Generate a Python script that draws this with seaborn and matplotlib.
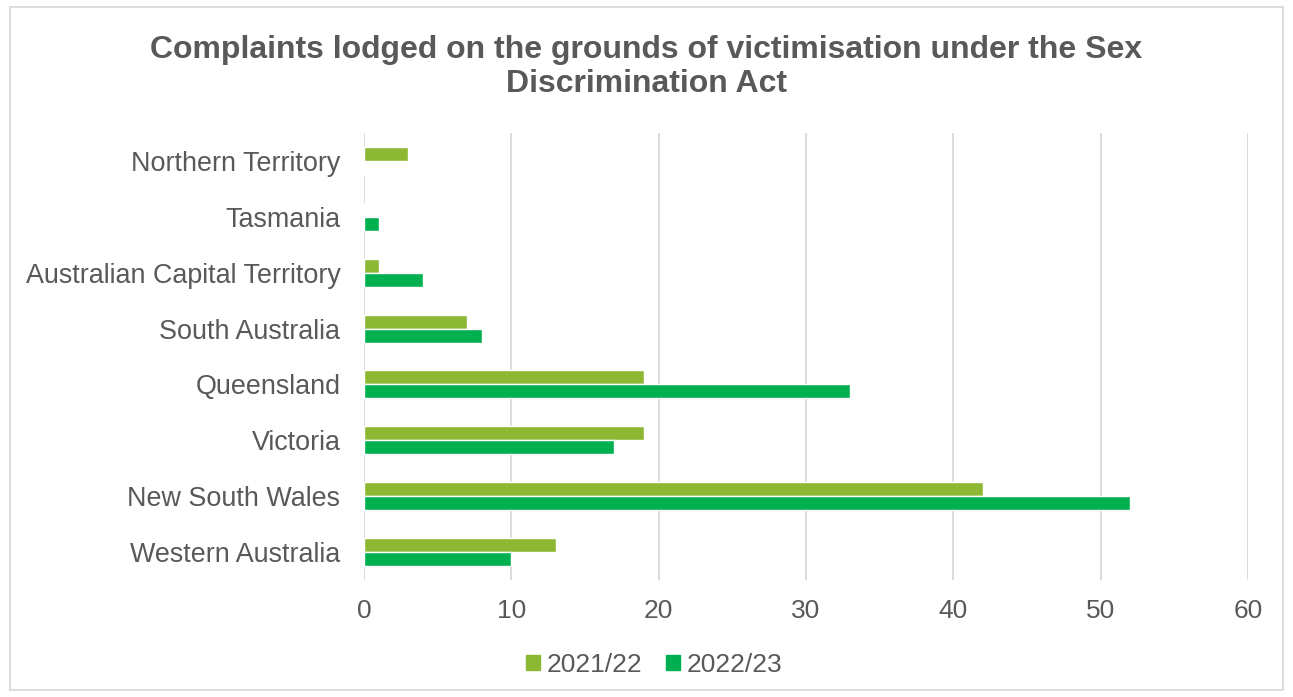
import matplotlib
matplotlib.use("Agg")
import matplotlib.pyplot as plt
import seaborn as sns
import pandas as pd
from matplotlib.patches import Rectangle

states = ["Northern Territory", "Tasmania", "Australian Capital Territory",
          "South Australia", "Queensland", "Victoria", "New South Wales",
          "Western Australia"]
years = ["2021/22", "2022/23"]
complaints_2122 = [3, 0, 1, 7, 19, 19, 42, 13]
complaints_2223 = [0, 1, 4, 8, 33, 17, 52, 10]
x_ticks = [0, 10, 20, 30, 40, 50, 60]

df = pd.DataFrame({
    "State": states * 2,
    "Year": [years[0]] * len(states) + [years[1]] * len(states),
    "Complaints": complaints_2122 + complaints_2223,
})

sns.set_theme(style="white")
plt.rcParams["font.family"] = ["Liberation Sans", "DejaVu Sans"]
text_color = "#595959"

fig = plt.figure(figsize=(12.93, 6.97), dpi=100)
ax = fig.add_axes([364 / 1293, 1 - 580 / 697, (1248 - 364) / 1293, (580 - 133) / 697])

palette = {"2021/22": "#8DB833", "2022/23": "#00B050"}
sns.barplot(data=df, y="State", x="Complaints", hue="Year", order=states,
            hue_order=years, palette=palette, width=0.5, orient="h",
            saturation=1, ax=ax, legend=True)

ax.set_xlim(0, 60)
ax.set_xticks(x_ticks)
ax.xaxis.grid(True, color="#D9D9D9", linewidth=1.3)
ax.set_axisbelow(True)
for s in ax.spines.values():
    s.set_visible(False)
ax.set_xlabel("")
ax.set_ylabel("")
ax.tick_params(axis="x", labelsize=19, colors=text_color, length=0, pad=14)
ax.tick_params(axis="y", labelsize=19.4, colors=text_color, length=0, pad=17)

ax.legend_.remove()
handles = [Rectangle((0, 0), 1, 1, color=palette[y]) for y in years]
fig.legend(handles, years, loc="center", bbox_to_anchor=(654 / 1293, 1 - 665 / 697),
           ncol=2, frameon=False, fontsize=19, labelcolor=text_color,
           handlelength=0.52, handleheight=0.52, handletextpad=0.25, columnspacing=0.9)

fig.text(0.5, 1 - 67 / 697,
         "Complaints lodged on the grounds of victimisation under the Sex\nDiscrimination Act",
         ha="center", va="center", fontsize=23, fontweight="bold", color=text_color,
         linespacing=1.2)

fig.patches.append(Rectangle((10 / 1293, 7 / 697), 1273 / 1293, 683 / 697,
                             transform=fig.transFigure, fill=False,
                             edgecolor="#D9D9D9", linewidth=1.3))

fig.savefig("out.png", dpi=100)
